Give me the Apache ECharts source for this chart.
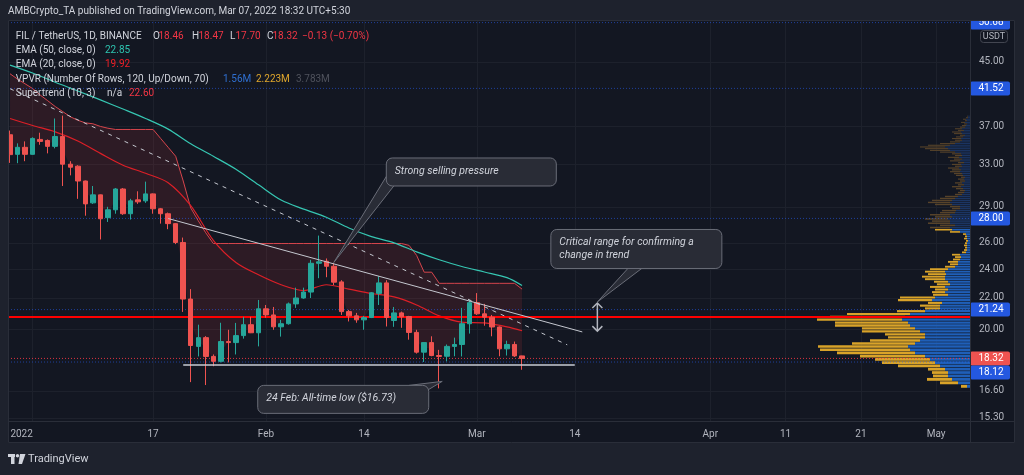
<!DOCTYPE html>
<html>
<head>
<meta charset="utf-8">
<script src="https://cdn.jsdelivr.net/npm/echarts@6.0.0/dist/echarts.min.js"></script>
<style>
html,body{margin:0;padding:0;background:#131722;overflow:hidden;}
#chart{width:1024px;height:475px;}
</style>
</head>
<body>
<div id="chart"></div>
<script>
// ---------------- DATA ----------------
const dates = ['2021-12-29','2021-12-30','2021-12-31',
'2022-01-01','2022-01-02','2022-01-03','2022-01-04','2022-01-05','2022-01-06','2022-01-07','2022-01-08','2022-01-09','2022-01-10',
'2022-01-11','2022-01-12','2022-01-13','2022-01-14','2022-01-15','2022-01-16','2022-01-17','2022-01-18','2022-01-19','2022-01-20',
'2022-01-21','2022-01-22','2022-01-23','2022-01-24','2022-01-25','2022-01-26','2022-01-27','2022-01-28','2022-01-29','2022-01-30','2022-01-31',
'2022-02-01','2022-02-02','2022-02-03','2022-02-04','2022-02-05','2022-02-06','2022-02-07','2022-02-08','2022-02-09','2022-02-10',
'2022-02-11','2022-02-12','2022-02-13','2022-02-14','2022-02-15','2022-02-16','2022-02-17','2022-02-18','2022-02-19','2022-02-20',
'2022-02-21','2022-02-22','2022-02-23','2022-02-24','2022-02-25','2022-02-26','2022-02-27','2022-02-28',
'2022-03-01','2022-03-02','2022-03-03','2022-03-04','2022-03-05','2022-03-06','2022-03-07'];
const opens = [36.08,34.00,34.73,34.00,35.57,35.46,34.83,35.89,33.00,32.80,31.36,29.35,30.07,28.06,28.74,30.61,28.40,29.62,29.53,30.16,28.83,28.40,27.56,26.03,21.93,19.00,19.51,18.43,18.16,19.28,19.22,19.63,20.29,19.80,21.29,20.90,20.16,20.35,21.61,22.00,22.40,24.44,24.59,24.22,23.10,21.11,20.84,20.59,20.74,22.31,23.03,20.55,21.03,20.80,19.82,18.67,19.22,18.48,18.44,19.00,19.11,20.35,21.69,20.97,20.76,20.15,18.86,19.11,18.46];
const highs = [36.54,35.15,35.36,35.80,36.30,35.57,37.90,38.23,33.30,32.90,31.40,30.89,30.10,29.00,30.70,30.70,29.71,30.40,31.30,30.20,28.90,28.50,27.60,26.42,22.60,20.29,19.60,18.54,20.41,19.98,20.40,20.78,20.78,21.87,21.54,21.41,20.59,21.70,22.70,22.70,24.70,26.58,24.80,24.44,23.22,21.22,21.03,20.84,22.40,23.50,23.22,21.41,21.11,20.84,19.98,19.24,19.59,18.80,19.11,19.51,21.35,21.87,22.33,21.61,20.90,20.18,19.33,19.28,18.47];
const lows = [33.13,33.10,33.30,33.97,35.00,34.10,34.62,30.89,31.90,29.71,28.23,29.26,26.27,27.70,28.40,28.30,27.90,29.26,29.35,28.40,27.56,27.10,25.90,21.09,17.05,18.43,16.90,17.89,18.10,18.10,18.54,19.45,19.78,19.00,20.72,19.98,19.57,20.29,21.35,21.95,22.00,23.36,23.43,22.88,20.90,20.49,20.41,19.98,20.70,21.54,20.18,20.16,20.10,19.39,18.59,18.12,18.44,16.73,18.16,18.44,18.43,19.75,20.90,20.23,19.59,18.44,18.48,18.40,17.70];
const closes = [33.97,34.73,34.00,35.68,35.36,34.83,35.89,33.00,32.70,31.36,29.26,30.07,27.97,28.74,30.61,28.40,29.53,29.44,30.16,28.83,28.40,27.56,26.03,21.93,19.05,19.51,18.43,18.16,19.28,19.22,19.63,20.29,19.80,21.29,20.90,20.16,20.35,21.61,22.00,22.40,24.44,24.55,24.22,23.08,21.11,20.84,20.59,20.74,22.35,23.03,20.74,21.03,20.78,19.82,18.67,19.22,18.48,18.43,19.00,19.11,20.35,21.69,20.97,20.76,20.15,18.86,19.11,18.46,18.32];

// Supertrend (10,3) upper band, one value per candle
const superTrend = [43.4,42.7,42.1,41.5,40.7,40.0,39.3,38.7,38.1,37.7,37.4,37.3,37.0,36.8,
36.66,36.66,36.66,36.66,36.66,36.66,
35.68,34.73,33.8,31.36,28.9,27.8,26.8,
25.95,25.95,25.95,25.95,25.95,25.95,25.95,25.95,25.95,25.95,25.95,25.95,25.95,25.95,25.95,25.95,25.95,25.95,25.95,25.95,25.95,25.95,25.95,25.95,25.95,25.95,
25.8,25.03,23.79,23.79,
23.0,23.0,23.0,23.0,23.0,23.0,23.0,23.0,23.0,23.0,23.0,
22.6];

// EMA readings
const emaDates = ['2021-12-29','2022-01-01','2022-01-04','2022-01-07','2022-01-10','2022-01-13','2022-01-16','2022-01-19','2022-01-22','2022-01-25','2022-01-28','2022-01-31','2022-02-03','2022-02-06','2022-02-09','2022-02-12','2022-02-15','2022-02-18','2022-02-21','2022-02-24','2022-02-27','2022-03-02','2022-03-05','2022-03-07'];
const ema50 = [44.56,43.5,42.3,41.2,40.1,39.0,37.9,36.7,35.1,33.8,32.5,31.0,29.6,28.8,28.1,27.2,26.5,26.0,25.3,24.7,24.2,23.8,23.4,22.85];
const ema20 = [37.9,37.1,36.4,35.4,34.1,32.9,32.1,31.2,29.1,26.2,24.5,23.6,22.9,22.5,22.9,22.6,22.3,22.07,21.54,20.84,20.45,20.4,20.16,19.92];

// Drawn lines
const trendSolid = [['2022-01-19', 27.99], ['2022-03-15', 19.85]];
const trendDashed = [['2021-12-29', 41.48], ['2022-03-13', 19.09]];
const atlSupport = [['2022-01-21', 17.96], ['2022-03-14', 17.96]];
const supportLevel = 20.77;
const alertLevels = [50.68, 41.52, 28.00, 21.24, 18.12];
const tagPrices = [50.68, 41.52, 28.00, 21.24, 18.32, 18.12];
const tagKinds = ['alert','alert','alert','alert','last','alert'];
const criticalRange = ['2022-03-17', 19.9, 21.67];

// Volume profile (VPVR, 120 rows), volume in thousands
const vpLow = 16.73, vpHigh = 38.23, vpRows = 120, vaHigh = 27.15;
const vpUp = [3,12,18,22,22,25,30,35,40,45, 55,60,62,55,50,45,45,50,55,60, 62,68,65,60,45,30,30,28,38,35,
 22,25,22,25,20,22,25,25,24,25, 22,15,12,12,10,9,10,4,3,3, 3,3,2,3,3,4,10,18,20,15,
 20,20,22,18,20,15,14,10,10,18, 20,18,15,12,8,6,5,7,9,6, 8,5,6,5,7,8,10,9,11,8,
 9,6,10,8,11,8,9,15,20,22, 25,20,15,10,8,9,7,5,8,9, 6,8,5,4,3,5,3,4,2,2];
const vpDown = [6,18,25,15,16,17,42,53,55,65, 78,90,90,63,50,37,40,58,53,75, 73,85,75,63,28,15,20,14,34,35,
 15,13,13,15,13,14,20,23,18,20, 18,10,8,10,7,6,8,4,3,2, 3,2,2,3,2,3,10,17,20,15,
 22,18,23,17,20,15,14,8,10,17, 22,20,15,13,7,6,5,7,9,6, 7,5,6,4,7,8,10,9,11,7,
 9,6,10,8,11,7,9,15,20,23, 25,22,15,10,7,9,7,5,8,9, 6,7,5,4,3,4,2,3,2,1];

// Axis ticks
const xTickDates = ['2022-01-01','2022-01-17','2022-02-01','2022-02-14','2022-03-01','2022-03-14','2022-04-01','2022-04-11','2022-04-21','2022-05-01'];
const xTickLabels = ['2022','17','Feb','14','Mar','14','Apr','11','21','May'];
const yTickVals = [15.3, 16.6, 20, 22, 24, 26, 29, 33, 37, 45];

// ---------------- HELPERS ----------------
const DAY0 = Date.UTC(2022, 0, 1);
function dayIdx(s){ const a = s.split('-').map(Number); return Math.round((Date.UTC(a[0], a[1]-1, a[2]) - DAY0) / 86400000); }
const xTickVals = xTickDates.map(dayIdx);
const lastDay = dayIdx(dates[dates.length-1]);

const candleData = dates.map((d,i)=>[dayIdx(d), opens[i], closes[i], lows[i], highs[i]]);
const stFillData = dates.map((d,i)=>[dayIdx(d), superTrend[i], (opens[i]+closes[i])/2]);
const vpStep = (vpHigh - vpLow) / vpRows;
const vpData = vpUp.map((u,i)=>[vpLow + i*vpStep, vpLow + (i+1)*vpStep, u, vpDown[i]]);
const toXY = arr => arr.map(p=>[dayIdx(p[0]), p[1]]);

const FONT = 'Roboto, "Noto Sans", sans-serif';
const VP_UP = '#1f5fb8', VP_DN = '#d9a329', VP_UP_DIM = '#1b3563', VP_DN_DIM = '#57432a';

function renderVP(params, api){
  const lo = api.value(0), hi = api.value(1), up = api.value(2), dn = api.value(3);
  const pTop = api.coord([0, hi]);
  const pUp = api.coord([up, lo]);
  const pAll = api.coord([up+dn, lo]);
  const yTop = pTop[1];
  const h = Math.max(pUp[1] - yTop - 0.6, 0.8);
  const dim = (lo+hi)/2 > vaHigh;
  return {type:'group', children:[
    {type:'rect', shape:{x:pUp[0], y:yTop, width:pTop[0]-pUp[0], height:h}, style:{fill: dim?VP_UP_DIM:VP_UP}},
    {type:'rect', shape:{x:pAll[0], y:yTop, width:pUp[0]-pAll[0], height:h}, style:{fill: dim?VP_DN_DIM:VP_DN}}
  ]};
}
function renderSTFill(params, api){
  if (params.dataIndexInside !== 0) return null;
  const n = params.dataInsideLength;
  const top = [], bot = [];
  for (let j = 0; j < n; j++){
    top.push(api.coord([api.value(0, j), api.value(1, j)]));
    bot.push(api.coord([api.value(0, j), api.value(2, j)]));
  }
  return {type:'polygon', shape:{points: top.concat(bot.reverse())}, style:{fill:'rgba(242,54,69,0.12)'}};
}
function hline(color, width, dash){
  return function(params, api){
    const y = api.coord([api.value(0), api.value(1)])[1];
    const cs = params.coordSys;
    return {type:'line', shape:{x1:cs.x, y1:y, x2:cs.x+cs.width, y2:y}, style:{stroke:color, lineWidth:width, lineDash:dash}};
  };
}
let tagPrevY = -1e9;
function renderTag(params, api){
  if (params.dataIndex === 0) tagPrevY = -1e9;
  const price = api.value(1);
  const kind = tagKinds[api.value(2)];
  let y = api.coord([api.value(0), price])[1];
  const H = 14;
  if (y < tagPrevY + H) y = tagPrevY + H;
  tagPrevY = y;
  const x = params.coordSys.x + params.coordSys.width;
  return {type:'group', children:[
    {type:'rect', shape:{x:x, y:y-H/2, width:40, height:H, r:2}, style:{fill: kind==='last' ? '#ef5350' : '#2458e0'}},
    {type:'text', style:{text: price.toFixed(2), x:x+21, y:y, align:'center', verticalAlign:'middle', fill:'#ffffff', font:'10px '+FONT}}
  ]};
}

// ---------------- CHART ----------------
const chart = echarts.init(document.getElementById('chart'), null, {renderer:'canvas'});
const option = {
  backgroundColor: '#131722',
  animation: false,
  grid: {left: 8, right: 54, top: 20, bottom: 54, outerBoundsMode: 'none', containLabel: false},
  xAxis: [{
    type: 'value', min: -3.27, max: 124.49,
    axisLine: {show: false},
    axisTick: {show: false, customValues: xTickVals},
    axisLabel: {
      customValues: xTickVals,
      formatter: v => { const i = xTickVals.indexOf(Math.round(v)); return i === 0 ? '{first|' + xTickLabels[0] + '}' : xTickLabels[i]; },
      rich: {first: {color: '#b2b5be', fontSize: 10, fontFamily: FONT, padding: [0, 22, 0, 0]}},
      color: '#b2b5be', fontSize: 10, fontFamily: FONT, margin: 8
    },
    splitLine: {show: true, lineStyle: {color: '#1d212c', width: 1}}
  }, {
    type: 'value', min: 0, max: 962, inverse: true, show: false
  }],
  yAxis: [{
    type: 'log', min: 15.155, max: 51.08, position: 'right',
    axisLine: {show: false},
    axisTick: {show: false, customValues: yTickVals},
    axisLabel: {customValues: yTickVals, formatter: v => Number(v).toFixed(2), color: '#b2b5be', fontSize: 10, fontFamily: FONT, margin: 9},
    splitLine: {show: true, lineStyle: {color: '#1d212c', width: 1}}
  }],
  series: [
    {name:'VPVR', type:'custom', xAxisIndex:1, yAxisIndex:0, data: vpData, encode:{x:[2,3], y:[0,1]}, renderItem: renderVP, z:1, silent:true},
    {name:'SupertrendFill', type:'custom', data: stFillData, encode:{x:0, y:[1,2]}, renderItem: renderSTFill, z:2, silent:true},
    {name:'Supertrend', type:'line', data: dates.map((d,i)=>[dayIdx(d), superTrend[i]]), symbol:'none', lineStyle:{color:'#d6454c', width:1}, z:2, silent:true},
    {name:'EMA50', type:'line', data: emaDates.map((d,i)=>[dayIdx(d), ema50[i]]), smooth:0.3, symbol:'none', lineStyle:{color:'#36c6b2', width:1.2}, z:3, silent:true},
    {name:'EMA20', type:'line', data: emaDates.map((d,i)=>[dayIdx(d), ema20[i]]), smooth:0.3, symbol:'none', lineStyle:{color:'#dc1f27', width:1.2}, z:3, silent:true},
    {name:'alerts', type:'custom', data: alertLevels.map(p=>[lastDay, p]), renderItem: hline('rgba(41,98,255,0.55)', 1, [1,2]), z:3, silent:true},
    {name:'support', type:'custom', data: [[lastDay, supportLevel]], renderItem: hline('#ff0000', 2, null), z:4, silent:true},
    {name:'lastPrice', type:'custom', data: [[lastDay, closes[closes.length-1]]], renderItem: hline('rgba(242,54,69,0.9)', 1, [1,2]), z:4, silent:true},
    {name:'FIL', type:'candlestick', data: candleData, barWidth: 5, z:5, silent:true,
      itemStyle:{color:'#26a69a', color0:'#ef5350', borderColor:'#26a69a', borderColor0:'#ef5350', borderWidth:1}},
    {name:'trendSolid', type:'line', data: toXY(trendSolid), symbol:'none', lineStyle:{color:'#c4c7cf', width:1}, z:6, silent:true},
    {name:'trendDashed', type:'line', data: toXY(trendDashed), symbol:'none', lineStyle:{color:'#c4c7cf', width:1, type:[4,5]}, z:6, silent:true},
    {name:'atlSupport', type:'line', data: toXY(atlSupport), symbol:'none', lineStyle:{color:'#c9ccd4', width:1.5}, z:6, silent:true},
    {name:'tags', type:'custom', data: tagPrices.map((p,i)=>[lastDay, p, i]), renderItem: renderTag, clip:false, z:20, silent:true}
  ]
};
chart.setOption(option);

// ---------------- ANNOTATIONS ----------------
const P = (date, price) => chart.convertToPixel({xAxisIndex:0, yAxisIndex:0}, [dayIdx(date), price]);
const FRAME = '#1e222d', SEP = '#2a2e39', BOX_FILL = '#292c36', BOX_STROKE = '#6a6d78', TXT = '#d1d4dc';
const G = [];
G.push({type:'rect', shape:{x:0,y:0,width:1024,height:20}, style:{fill:FRAME}, z:100, silent:true});
G.push({type:'rect', shape:{x:0,y:0,width:8,height:475}, style:{fill:FRAME}, z:100, silent:true});
G.push({type:'rect', shape:{x:1015,y:0,width:9,height:475}, style:{fill:FRAME}, z:100, silent:true});
G.push({type:'rect', shape:{x:0,y:443,width:1024,height:32}, style:{fill:FRAME}, z:100, silent:true});
G.push({type:'line', shape:{x1:970.5,y1:20,x2:970.5,y2:443}, style:{stroke:SEP, lineWidth:1}, z:101, silent:true});
G.push({type:'line', shape:{x1:8,y1:421.5,x2:1015,y2:421.5}, style:{stroke:SEP, lineWidth:1}, z:101, silent:true});
G.push({type:'rect', shape:{x:8.5,y:20.5,width:1006,height:422}, style:{fill:null, stroke:SEP, lineWidth:1}, z:101, silent:true});

function txt(s, x, y, color, font){
  G.push({type:'text', style:{text:s, x:x, y:y, fill:color, font: font || ('10px '+FONT), verticalAlign:'middle'}, z:120, silent:true});
}
txt('AMBCrypto_TA published on TradingView.com, Mar 07, 2022 18:32 UTC+5:30', 8, 11, TXT, '10px '+FONT);
// legend
const RED = '#f23645';
txt('FIL / TetherUS, 1D, BINANCE', 15.7, 36, TXT);
txt('O', 153, 36, TXT); txt('18.46', 158.5, 36, RED);
txt('H', 192, 36, TXT); txt('18.47', 198.5, 36, RED);
txt('L', 230, 36, TXT); txt('17.70', 235.5, 36, RED);
txt('C', 267, 36, TXT); txt('18.32', 272.5, 36, RED);
txt('\u22120.13 (\u22120.70%)', 302, 36, RED);
txt('EMA (50, close, 0)', 15.7, 50.5, TXT); txt('22.85', 105, 50.5, '#2ec4b0');
txt('EMA (20, close, 0)', 15.7, 64.5, TXT); txt('19.92', 105, 64.5, '#ee2027');
txt('VPVR (Number Of Rows, 120, Up/Down, 70)', 15.7, 79, TXT);
txt('1.56M', 223, 79, '#2f6fd0'); txt('2.223M', 256, 79, '#e0a72c'); txt('3.783M', 296, 79, '#4f525c');
txt('Supertrend (10, 3)', 15.7, 93, TXT); txt('n/a', 107, 93, TXT); txt('22.60', 129, 93, RED);

// USDT label
G.push({type:'rect', shape:{x:980.5,y:30.5,width:27,height:12,r:3}, style:{fill:'#131722', stroke:'#434651', lineWidth:1}, z:110, silent:true});
G.push({type:'text', style:{text:'USDT', x:994, y:36.5, align:'center', verticalAlign:'middle', fill:'#b2b5be', font:'9px '+FONT}, z:111, silent:true});

// callouts
function callout(tip, box, b1, b2, lines, lineY){
  G.push({type:'polygon', shape:{points:[b1, tip, b2]}, style:{fill:BOX_FILL, stroke:BOX_STROKE, lineWidth:1}, z:110, silent:true});
  G.push({type:'rect', shape:{x:box[0]+0.5, y:box[1]+0.5, width:box[2], height:box[3], r:6}, style:{fill:BOX_FILL, stroke:BOX_STROKE, lineWidth:1}, z:111, silent:true});
  lines.forEach((s,i)=>{
    G.push({type:'text', style:{text:s, x:box[0]+9, y:lineY[i], fill:TXT, font:'italic 10.5px '+FONT, verticalAlign:'middle'}, z:112, silent:true});
  });
}
// 1: strong selling pressure -> Feb 10 candle
{
  const t = P('2022-02-10', 24.5);
  callout([t[0], t[1]], [t[0]+52, t[1]-105, 170, 28], [t[0]+52.5, t[1]-86], [t[0]+60, t[1]-76.5], ['Strong selling pressure'], [t[1]-91]);
}
// 2: critical range arrow
{
  const top = P(criticalRange[0], criticalRange[2]);
  const bot = P(criticalRange[0], criticalRange[1]);
  const x = top[0];
  G.push({type:'polyline', shape:{points:[[x, top[1]], [x, bot[1]]]}, style:{stroke:'#b2b5be', lineWidth:1.5}, z:110, silent:true});
  G.push({type:'polyline', shape:{points:[[x-5, top[1]+5], [x, top[1]], [x+5, top[1]+5]]}, style:{stroke:'#b2b5be', lineWidth:1.5, fill:null}, z:110, silent:true});
  G.push({type:'polyline', shape:{points:[[x-5, bot[1]-5], [x, bot[1]], [x+5, bot[1]-5]]}, style:{stroke:'#b2b5be', lineWidth:1.5, fill:null}, z:110, silent:true});
  callout([x, top[1]-1], [x-47, top[1]-74, 171, 39], [x+31, top[1]-35], [x+45, top[1]-35],
    ['Critical range for confirming a', 'change in trend'], [top[1]-61, top[1]-48]);
}
// 3: all-time low
{
  const a = P('2022-02-24', 16.73);
  callout([a[0]+3, a[1]-7], [a[0]-182, a[1]-3.5, 171, 28], [a[0]-30, a[1]-3], [a[0]-12, a[1]+2],
    ['24 Feb: All-time low ($16.73)'], [a[1]+10.5]);
}
// TradingView brand
G.push({type:'rect', shape:{x:8,y:454,width:7,height:3}, style:{fill:TXT}, z:120, silent:true});
G.push({type:'rect', shape:{x:11,y:454,width:3.5,height:10}, style:{fill:TXT}, z:120, silent:true});
G.push({type:'circle', shape:{cx:17.5,cy:455.7,r:1.7}, style:{fill:TXT}, z:120, silent:true});
G.push({type:'polygon', shape:{points:[[20,454],[25.5,454],[22,464],[18.5,464]]}, style:{fill:TXT}, z:120, silent:true});
txt('TradingView', 28, 459.5, TXT, '11px '+FONT);

chart.setOption({graphic: G});
</script>
</body>
</html>
